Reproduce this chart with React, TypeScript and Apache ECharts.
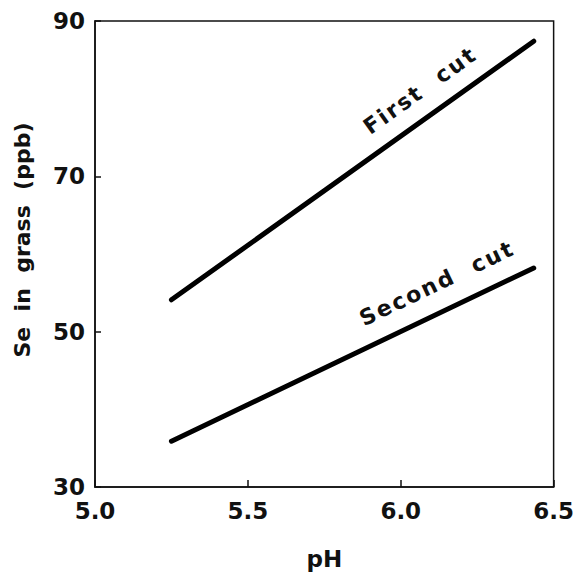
import React, { useEffect, useRef } from "react";
import * as echarts from "echarts";

const phRange = [5.25, 6.435];
const firstCut = [54.1, 87.4];
const secondCut = [35.9, 58.2];
const xTicks = [5.0, 5.5, 6.0, 6.5];
const yTicks = [30, 50, 70, 90];
const lineLabels = ["First  cut", "Second  cut"];
const labelAtPh = [5.935, 5.909];
const yTitle = "Se  in  grass  (ppb)";
const yTitleAt = 61.8; // data value at title centre

const FONT = "DejaVu Sans";
const HAIR = "\u200A";
const spaced = (s: string) => s.split("").join(HAIR);

export default function App() {
  const ref = useRef<HTMLDivElement>(null);
  useEffect(() => {
    if (!ref.current) return;
    const chart = echarts.init(ref.current, null, { renderer: "svg" });
    const mk = (vals: number[]) => phRange.map((x, i) => [x, vals[i]]);
    const option: any = {
      animation: false,
      backgroundColor: "#fff",
      grid: {
        left: 95,
        top: 21,
        right: 20,
        bottom: 86,
        show: true,
        borderColor: "#111",
        borderWidth: 1.5,
        backgroundColor: "transparent",
      },
      xAxis: {
        type: "value",
        min: xTicks[0],
        max: xTicks[xTicks.length - 1],
        interval: 0.5,
        name: "pH",
        nameLocation: "middle",
        nameGap: 60,
        nameTextStyle: { fontFamily: FONT, fontWeight: "bold", fontSize: 23, color: "#111" },
        axisLine: { show: true, lineStyle: { color: "#111", width: 1.5 } },
        axisTick: { show: true, inside: true, length: 7, lineStyle: { color: "#111", width: 1.5 } },
        axisLabel: {
          margin: 12,
          fontFamily: FONT,
          fontWeight: "bold",
          fontSize: 23,
          color: "#111",
          formatter: (v: number) => v.toFixed(1),
        },
        splitLine: { show: false },
      },
      yAxis: {
        type: "value",
        min: yTicks[0],
        max: yTicks[yTicks.length - 1],
        interval: 20,
        axisLine: { show: true, lineStyle: { color: "#111", width: 1.5 } },
        axisTick: { show: true, inside: true, length: 6, lineStyle: { color: "#111", width: 1.5 } },
        axisLabel: {
          margin: 10,
          fontFamily: FONT,
          fontWeight: "bold",
          fontSize: 23,
          color: "#111",
        },
        splitLine: { show: false },
      },
      series: [
        {
          name: "First cut",
          type: "line",
          data: mk(firstCut),
          symbol: "none",
          lineStyle: { color: "#000", width: 5, cap: "round" },
        },
        {
          name: "Second cut",
          type: "line",
          data: mk(secondCut),
          symbol: "none",
          lineStyle: { color: "#000", width: 5, cap: "round" },
        },
      ],
    };
    chart.setOption(option);

    const graphics: any[] = [];
    [firstCut, secondCut].forEach((vals, i) => {
      const ps = chart.convertToPixel({ gridIndex: 0 }, [phRange[0], vals[0]]) as number[];
      const pe = chart.convertToPixel({ gridIndex: 0 }, [phRange[1], vals[1]]) as number[];
      const theta = Math.atan2(-(pe[1] - ps[1]), pe[0] - ps[0]);
      const t = (labelAtPh[i] - phRange[0]) / (phRange[1] - phRange[0]);
      const fx = ps[0] + t * (pe[0] - ps[0]);
      const fy = ps[1] + t * (pe[1] - ps[1]);
      const off = i === 0 ? 15 : 17;
      const x = fx - Math.sin(theta) * off;
      const y = fy - Math.cos(theta) * off;
      graphics.push({
        type: "text",
        x,
        y,
        rotation: theta,
        style: {
          text: spaced(lineLabels[i]),
          fontFamily: FONT,
          fontWeight: "bold",
          fontSize: 22,
          fill: "#111",
          align: "left",
          verticalAlign: "bottom",
        },
      });
    });
    const ty = chart.convertToPixel({ gridIndex: 0 }, [xTicks[0], yTitleAt]) as number[];
    graphics.push({
      type: "text",
      x: 22,
      y: ty[1],
      rotation: Math.PI / 2,
      style: {
        text: yTitle,
        fontFamily: FONT,
        fontWeight: "bold",
        fontSize: 22,
        fill: "#111",
        align: "center",
        verticalAlign: "middle",
      },
    });
    chart.setOption({ graphic: graphics });

    return () => chart.dispose();
  }, []);
  return (
    <div
      ref={ref}
      style={{ position: "fixed", left: 0, top: 0, width: 577, height: 575, background: "#fff" }}
    />
  );
}
